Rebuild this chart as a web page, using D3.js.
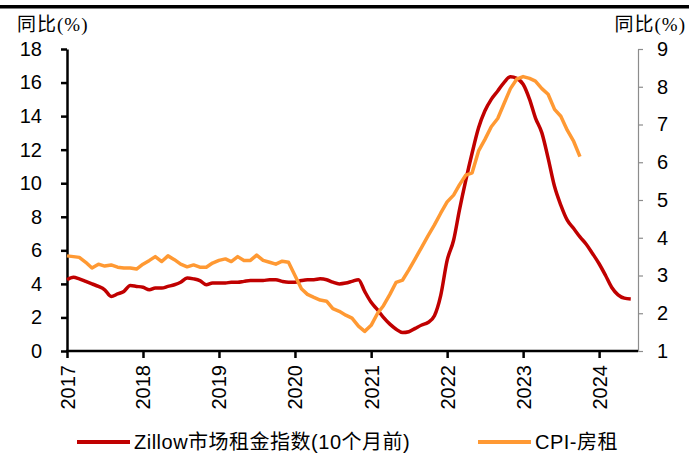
<!DOCTYPE html>
<html>
<head>
<meta charset="utf-8">
<script src="https://cdn.jsdelivr.net/npm/d3@7"></script>
<style>
    body { margin: 0; background: #fff; }
    svg { display: block; }
</style>
</head>
<body>
<svg id="chart" width="689" height="455"></svg>
<script>

// monthly data, starting 2017-01
const startYear = 2017;

// Zillow rent index yoy, shifted 10 months forward (left axis)
const zillowValues = [
    4.25, 4.4, 4.3, 4.15, 4.0, 3.85, 3.65, 3.25, 3.4, 3.55, 3.9, 3.85,
    3.8, 3.65, 3.75, 3.75, 3.85, 3.95, 4.1, 4.35, 4.3, 4.2, 3.95, 4.05,
    4.05, 4.05, 4.1, 4.1, 4.15, 4.2, 4.2, 4.2, 4.25, 4.25, 4.15, 4.1,
    4.1, 4.2, 4.25, 4.25, 4.3, 4.25, 4.1, 4.0, 4.05, 4.15, 4.25, 3.55,
    2.9, 2.45, 2.0, 1.6, 1.3, 1.1, 1.15, 1.35, 1.55, 1.7, 2.1, 3.3,
    5.4, 6.6, 8.4, 10.2, 11.8, 13.3, 14.3, 15.0, 15.5, 16.0, 16.35, 16.25,
    15.9, 15.0, 13.9, 13.0, 11.5, 9.8, 8.7, 7.8, 7.3, 6.8, 6.35, 5.8,
    5.2, 4.5, 3.8, 3.35, 3.15, 3.1
];

// CPI rent yoy (right axis)
const cpiRentValues = [
    3.52, 3.5, 3.48, 3.35, 3.2, 3.3, 3.25, 3.28, 3.22, 3.2, 3.2, 3.17,
    3.3, 3.4, 3.5, 3.37, 3.52, 3.42, 3.3, 3.23, 3.28, 3.22, 3.22, 3.33,
    3.4, 3.44, 3.37, 3.5, 3.4, 3.4, 3.54, 3.4, 3.35, 3.3, 3.38, 3.35,
    3.0, 2.65, 2.5, 2.42, 2.35, 2.32, 2.12, 2.05, 1.95, 1.87, 1.66, 1.52,
    1.68, 2.0, 2.2, 2.5, 2.82, 2.88, 3.15, 3.45, 3.75, 4.05, 4.34, 4.65,
    4.95, 5.13, 5.4, 5.66, 5.72, 6.3, 6.6, 6.94, 7.16, 7.55, 7.95, 8.2,
    8.27, 8.22, 8.15, 7.95, 7.8, 7.4, 7.22, 6.85, 6.55, 6.15
];

const yearTicks = [2017, 2018, 2019, 2020, 2021, 2022, 2023, 2024];
const leftTicks = [0, 2, 4, 6, 8, 10, 12, 14, 16, 18];
const rightTicks = [1, 2, 3, 4, 5, 6, 7, 8, 9];

const seriesNames = ["Zillow市场租金指数(10个月前)", "CPI-房租"];
const seriesColors = ["#C00000", "#FF9933"];
const axisTitle = "同比(%)";

const svg = d3.select("#chart");

const latinFont = "Arial, 'Liberation Sans', 'Noto Sans CJK SC', sans-serif";
const titleFont = "'Times New Roman', 'Liberation Serif', 'Noto Sans CJK SC', serif";

// scales
const x = d3.scaleTime()
    .domain([new Date(2017, 0, 1), new Date(2024, 6, 1)])
    .range([67, 637]);

const yLeft = d3.scaleLinear()
    .domain([0, 18])
    .range([351, 49]);

const yRight = d3.scaleLinear()
    .domain([1, 9])
    .range([351, 49]);

const monthDate = i => new Date(startYear, i, 1);

// top rule
svg.append("rect")
    .attr("x", 0)
    .attr("y", 5)
    .attr("width", 689)
    .attr("height", 3.5)
    .attr("fill", "#000");

// axis titles
svg.append("text")
    .attr("x", 17)
    .attr("y", 31)
    .attr("font-family", titleFont)
    .attr("font-size", 19)
    .attr("letter-spacing", 1)
    .text(axisTitle);

svg.append("text")
    .attr("x", 686)
    .attr("y", 31)
    .attr("text-anchor", "end")
    .attr("font-family", titleFont)
    .attr("font-size", 19)
    .attr("letter-spacing", 1)
    .text(axisTitle);

// right axis (gray, thin)
const rightAxis = svg.append("g")
    .attr("transform", "translate(638,0)")
    .call(d3.axisRight(yRight).tickValues(rightTicks).tickSize(5).tickPadding(14).tickSizeOuter(0));

rightAxis.selectAll("path, line")
    .attr("stroke", "#8c8c8c")
    .attr("stroke-width", 1.2);

rightAxis.selectAll("text")
    .attr("font-family", latinFont)
    .attr("font-size", 20)
    .attr("fill", "#000");

// left axis
const leftAxis = svg.append("g")
    .attr("transform", "translate(67,0)")
    .call(d3.axisLeft(yLeft).tickValues(leftTicks).tickSize(6).tickPadding(19).tickSizeOuter(0));

leftAxis.selectAll("path, line")
    .attr("stroke", "#000")
    .attr("stroke-width", 2.5);

leftAxis.selectAll("text")
    .attr("font-family", latinFont)
    .attr("font-size", 20)
    .attr("fill", "#000");

// lines
const zillowLine = d3.line()
    .x((d, i) => x(monthDate(i)))
    .y(d => yLeft(d))
    .curve(d3.curveMonotoneX);

const cpiLine = d3.line()
    .x((d, i) => x(monthDate(i)))
    .y(d => yRight(d));

svg.append("path")
    .datum(zillowValues)
    .attr("fill", "none")
    .attr("stroke", seriesColors[0])
    .attr("stroke-width", 3.5)
    .attr("stroke-linejoin", "round")
    .attr("d", zillowLine);

svg.append("path")
    .datum(cpiRentValues)
    .attr("fill", "none")
    .attr("stroke", seriesColors[1])
    .attr("stroke-width", 3.5)
    .attr("stroke-linejoin", "round")
    .attr("d", cpiLine);

// bottom axis
const bottomAxis = svg.append("g")
    .attr("transform", "translate(0,351)")
    .call(d3.axisBottom(x)
        .tickValues(yearTicks.map(y => new Date(y, 0, 1)))
        .tickFormat(d3.timeFormat("%Y"))
        .tickSize(7)
        .tickSizeOuter(0));

bottomAxis.select(".domain")
    .attr("stroke", "#000")
    .attr("stroke-width", 2.5)
    .attr("d", "M66,0H638");

bottomAxis.selectAll("line")
    .attr("stroke", "#000")
    .attr("stroke-width", 2.5);

bottomAxis.selectAll("text")
    .attr("font-family", latinFont)
    .attr("font-size", 20)
    .attr("fill", "#000")
    .attr("text-anchor", "end")
    .attr("transform", "rotate(-90)")
    .attr("x", -14)
    .attr("y", 0)
    .attr("dy", "0.35em");

// legend
const legendItems = [
    {name: seriesNames[0], color: seriesColors[0], x: 77},
    {name: seriesNames[1], color: seriesColors[1], x: 478}
];

const legend = svg.append("g")
    .selectAll("g")
    .data(legendItems)
    .join("g")
    .attr("transform", d => `translate(${d.x},442)`);

legend.append("line")
    .attr("x1", 0)
    .attr("x2", 53)
    .attr("stroke", d => d.color)
    .attr("stroke-width", 4);

legend.append("text")
    .attr("x", 57)
    .attr("y", 0)
    .attr("dy", "0.35em")
    .attr("font-family", latinFont)
    .attr("font-size", 20)
    .attr("letter-spacing", 0.5)
    .text(d => d.name);

</script>
</body>
</html>
